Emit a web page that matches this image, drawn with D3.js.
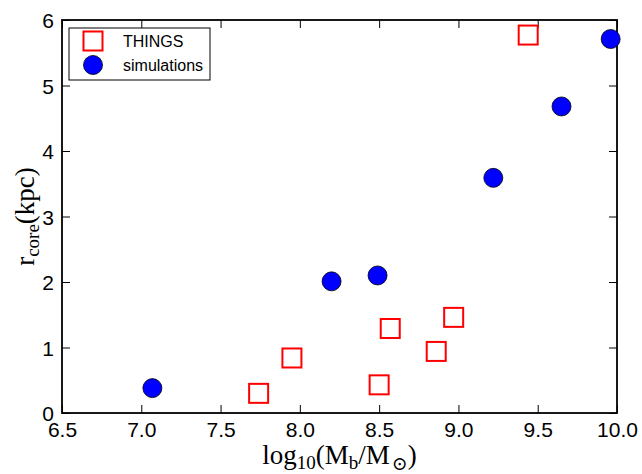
<!DOCTYPE html>
<html>
<head>
<meta charset="utf-8">
<script src="https://cdn.jsdelivr.net/npm/d3@7"></script>
<style>
  body { margin: 0; background: #fff; }
  svg { display: block; }
</style>
</head>
<body>
<svg width="642" height="474"></svg>
<script>
// THINGS observations
var thingsMass = [7.74, 7.95, 8.50, 8.57, 8.86, 8.97, 9.44];
var thingsCore = [0.30, 0.84, 0.43, 1.29, 0.94, 1.46, 5.77];
// simulations
var simMass = [7.07, 8.20, 8.49, 9.22, 9.65, 9.96];
var simCore = [0.38, 2.01, 2.10, 3.59, 4.68, 5.71];

var xTicks = [6.5, 7.0, 7.5, 8.0, 8.5, 9.0, 9.5, 10.0];
var yTicks = [0, 1, 2, 3, 4, 5, 6];

var margin = {left: 62, top: 20, right: 25, bottom: 61};
var width = 642 - margin.left - margin.right;
var height = 474 - margin.top - margin.bottom;

var svg = d3.select('svg');
var g = svg.append('g').attr('transform', 'translate(' + margin.left + ',' + margin.top + ')');

var x = d3.scaleLinear().domain([6.5, 10]).range([0, width]);
var y = d3.scaleLinear().domain([0, 6]).range([height, 0]);

var tickFont = '"Liberation Sans", Arial, sans-serif';

// axes, ticks pointing inwards on all four sides
var axBottom = g.append('g').attr('transform', 'translate(0,' + height + ')')
    .call(d3.axisBottom(x).tickValues(xTicks).tickFormat(d3.format('.1f')).tickSizeInner(-8).tickSizeOuter(0).tickPadding(8));
var axTop = g.append('g')
    .call(d3.axisTop(x).tickValues(xTicks).tickFormat('').tickSizeInner(-8).tickSizeOuter(0));
var axLeft = g.append('g')
    .call(d3.axisLeft(y).tickValues(yTicks).tickFormat(d3.format('d')).tickSizeInner(-8).tickSizeOuter(0).tickPadding(8));
var axRight = g.append('g').attr('transform', 'translate(' + width + ',0)')
    .call(d3.axisRight(y).tickValues(yTicks).tickFormat('').tickSizeInner(-8).tickSizeOuter(0));

[axBottom, axTop, axLeft, axRight].forEach(function (a) {
    a.select('.domain').remove();
    a.selectAll('line').attr('stroke', '#000').attr('stroke-width', 1);
    a.selectAll('text').attr('font-family', tickFont).attr('font-size', 21).attr('fill', '#000');
});
axBottom.selectAll('text').attr('dy', '0.76em');
axLeft.selectAll('text').attr('dy', '0.36em');

g.append('rect')
    .attr('width', width).attr('height', height)
    .attr('fill', 'none').attr('stroke', '#000').attr('stroke-width', 1.8);

// THINGS squares
var sq = 19;
g.selectAll('rect.things')
    .data(thingsMass)
    .enter()
    .append('rect')
    .attr('class', 'things')
    .attr('x', function (d) { return x(d) - sq / 2; })
    .attr('y', function (d, i) { return y(thingsCore[i]) - sq / 2; })
    .attr('width', sq).attr('height', sq)
    .attr('fill', 'none').attr('stroke', '#ff0000').attr('stroke-width', 2);

// simulation circles
g.selectAll('circle.sim')
    .data(simMass)
    .enter()
    .append('circle')
    .attr('class', 'sim')
    .attr('cx', function (d) { return x(d); })
    .attr('cy', function (d, i) { return y(simCore[i]); })
    .attr('r', 9.5)
    .attr('fill', '#0000ff').attr('stroke', '#000').attr('stroke-width', 0.8);

// legend
var leg = g.append('g').attr('transform', 'translate(7,8)');
leg.append('rect')
    .attr('width', 141).attr('height', 52)
    .attr('fill', '#fff').attr('stroke', '#000').attr('stroke-width', 1);
leg.append('rect')
    .attr('x', 24 - sq / 2).attr('y', 13 - sq / 2).attr('width', sq).attr('height', sq)
    .attr('fill', 'none').attr('stroke', '#ff0000').attr('stroke-width', 2);
leg.append('circle')
    .attr('cx', 24).attr('cy', 37).attr('r', 9.5)
    .attr('fill', '#0000ff').attr('stroke', '#000').attr('stroke-width', 0.8);
leg.append('text').attr('x', 54).attr('y', 13).attr('dy', '0.36em')
    .attr('font-family', tickFont).attr('font-size', 16).text('THINGS');
leg.append('text').attr('x', 54).attr('y', 37).attr('dy', '0.36em')
    .attr('font-family', tickFont).attr('font-size', 16).text('simulations');

// axis labels
var serif = '"Liberation Serif", "DejaVu Serif", serif';
var xl = svg.append('text')
    .attr('x', margin.left + width / 2).attr('y', 464)
    .attr('text-anchor', 'middle')
    .attr('font-family', serif).attr('font-size', 27);
xl.append('tspan').text('log');
xl.append('tspan').attr('font-size', 19).attr('dy', 5).text('10');
xl.append('tspan').attr('dy', -5).text('(M');
xl.append('tspan').attr('font-size', 19).attr('dy', 5).text('b');
xl.append('tspan').attr('dy', -5).text('/M');
xl.append('tspan').attr('font-size', 19).attr('dy', 6).attr('dx', 2).text('\u2299');
xl.append('tspan').attr('dy', -6).text(')');

var yl = svg.append('text')
    .attr('transform', 'translate(34,' + (margin.top + height / 2) + ') rotate(-90)')
    .attr('text-anchor', 'middle')
    .attr('font-family', serif).attr('font-size', 27);
yl.append('tspan').text('r');
yl.append('tspan').attr('font-size', 19).attr('dy', 5).text('core');
yl.append('tspan').attr('dy', -5).text('(kpc)');
</script>
</body>
</html>
